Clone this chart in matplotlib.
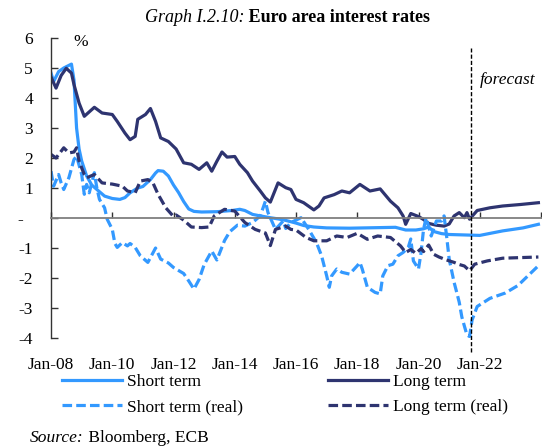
import numpy as np
import pandas as pd
import matplotlib
matplotlib.use('Agg')
import matplotlib.pyplot as plt

plt.rcParams['font.family'] = ['Liberation Serif', 'DejaVu Serif']
plt.rcParams['font.size'] = 12.5

# ---------------- data ----------------
short_dates = ['2008-01', '2008-02', '2008-04', '2008-06', '2008-09', '2008-10', '2008-11', '2008-12',
               '2009-01', '2009-03', '2009-05', '2009-07', '2009-10', '2010-01', '2010-04', '2010-06',
               '2010-08', '2010-11', '2011-01', '2011-04', '2011-06', '2011-07', '2011-09', '2011-11',
               '2012-01', '2012-03', '2012-05', '2012-07', '2012-09', '2012-12', '2013-06', '2013-12',
               '2014-03', '2014-05', '2014-08', '2014-11', '2015-03', '2015-06', '2015-09', '2016-01',
               '2016-04', '2016-08', '2017-01', '2017-10', '2018-10', '2019-04', '2019-08', '2019-12',
               '2020-03', '2020-05', '2020-07', '2020-10', '2021-01', '2021-09',
               '2022-01', '2022-10', '2023-06', '2023-12']
short_vals = [4.83, 4.55, 4.88, 5.0, 5.13, 4.6, 3.0, 2.3,
              1.9, 1.4, 1.1, 0.95, 0.73, 0.65, 0.62, 0.68,
              0.84, 1.0, 1.05, 1.28, 1.5, 1.58, 1.56, 1.4,
              1.1, 0.85, 0.55, 0.3, 0.22, 0.2, 0.21, 0.25,
              0.29, 0.25, 0.12, 0.07, 0.01, -0.03, -0.08, -0.17,
              -0.25, -0.3, -0.33, -0.34, -0.32, -0.31, -0.4, -0.4,
              -0.36, -0.3, -0.45, -0.52, -0.55, -0.57,
              -0.58, -0.43, -0.33, -0.21]

long_dates = ['2008-01', '2008-03', '2008-05', '2008-07', '2008-09', '2008-10', '2008-12', '2009-02',
              '2009-06', '2009-09', '2010-01', '2010-03', '2010-06', '2010-08', '2010-10', '2010-11',
              '2011-02', '2011-04', '2011-06', '2011-08', '2011-11', '2012-02', '2012-05', '2012-08',
              '2012-11', '2013-02', '2013-04', '2013-06', '2013-08', '2013-10', '2014-01', '2014-03',
              '2014-06', '2014-08', '2014-11', '2015-01', '2015-03', '2015-06', '2015-09', '2015-11',
              '2016-01', '2016-04', '2016-08', '2016-10', '2016-12', '2017-04', '2017-07', '2017-10',
              '2018-02', '2018-06', '2018-10', '2019-02', '2019-05', '2019-07', '2019-08', '2019-10',
              '2020-01', '2020-03', '2020-05', '2020-08', '2020-11', '2021-01', '2021-03', '2021-05',
              '2021-07', '2021-08', '2021-09',
              '2021-12', '2022-05', '2022-10', '2023-05', '2023-12']
long_vals = [4.7, 4.33, 4.75, 4.99, 4.83, 4.45, 3.83, 3.39,
             3.69, 3.5, 3.45, 3.22, 2.83, 2.61, 2.72, 3.29,
             3.45, 3.65, 3.22, 2.67, 2.55, 2.3, 1.84, 1.79,
             1.62, 1.84, 1.56, 1.89, 2.2, 2.03, 2.05, 1.79,
             1.51, 1.23, 0.9, 0.67, 0.53, 1.17, 1.01, 0.95,
             0.62, 0.51, 0.27, 0.4, 0.67, 0.78, 0.9, 0.84,
             1.12, 0.9, 0.97, 0.56, 0.34, 0.07, -0.21, 0.15,
             0.05, -0.05, -0.18, -0.24, -0.27, -0.2, 0.07, 0.18,
             0.01, 0.18, -0.04,
             0.25, 0.34, 0.4, 0.45, 0.51]

short_real_dates = ['2008-01', '2008-02', '2008-04', '2008-05', '2008-06', '2008-08', '2008-10', '2008-11',
                    '2009-01', '2009-02', '2009-03', '2009-04', '2009-06', '2009-07', '2009-08', '2009-10',
                    '2009-11', '2010-01', '2010-02', '2010-03', '2010-05', '2010-07', '2010-08', '2010-10',
                    '2010-12', '2011-03', '2011-04', '2011-06', '2011-08', '2011-11', '2012-01', '2012-05',
                    '2012-07', '2012-09', '2012-11', '2013-01', '2013-04', '2013-06', '2013-09', '2013-11',
                    '2014-02', '2014-05', '2014-08', '2014-11', '2015-01', '2015-02', '2015-05', '2015-08',
                    '2015-09', '2015-11', '2016-03', '2016-06', '2016-09', '2016-11', '2017-01', '2017-02',
                    '2017-03', '2017-05', '2017-07', '2017-10', '2018-01', '2018-02', '2018-03', '2018-05',
                    '2018-08', '2018-10', '2018-11', '2019-01', '2019-03', '2019-05', '2019-07', '2019-09',
                    '2019-10', '2019-11', '2020-01', '2020-02', '2020-03', '2020-04', '2020-06', '2020-08',
                    '2020-10', '2020-11', '2020-12', '2021-01', '2021-03', '2021-04', '2021-05', '2021-06',
                    '2021-07', '2021-08', '2021-09',
                    '2021-10', '2021-12', '2022-05', '2022-11', '2023-04', '2023-12']
short_real_vals = [1.56, 1.06, 1.45, 1.17, 0.95, 1.34, 1.95, 2.06,
                   1.45, 0.79, 1.12, 0.84, 1.51, 1.0, 0.62, 0.34,
                   -0.04, -0.38, -0.85, -0.98, -0.82, -0.93, -0.85, -0.98,
                   -1.26, -1.48, -1.32, -1.0, -1.37, -1.5, -1.65, -1.85,
                   -2.1, -2.37, -2.05, -1.55, -1.1, -1.4, -0.75, -0.46,
                   -0.24, -0.27, -0.15, 0.07, 0.56, 0.18, -0.38, -0.1,
                   -0.35, -0.15, 0.01, -0.38, -0.82, -1.26, -1.93, -2.31,
                   -1.93, -1.7, -1.81, -1.87, -1.59, -1.48, -1.7, -2.31,
                   -2.48, -2.53, -1.93, -1.59, -1.54, -1.26, -1.15, -0.98,
                   -0.7, -1.43, -1.7, -1.15, -0.38, 0.01, -0.6, -0.1,
                   -0.1, 0.07, -0.6, -1.37, -2.15, -2.48, -2.81, -3.3,
                   -3.6, -3.9, -3.95,
                   -3.4, -2.95, -2.68, -2.5, -2.25, -1.59]

long_real_dates = ['2008-01', '2008-03', '2008-06', '2008-08', '2008-10', '2008-11', '2008-12', '2009-02',
                   '2009-03', '2009-06', '2009-09', '2010-01', '2010-05', '2010-07', '2010-10', '2010-12',
                   '2011-03', '2011-05', '2011-07', '2011-10', '2012-01', '2012-02', '2012-05', '2012-08',
                   '2012-12', '2013-03', '2013-05', '2013-09', '2014-01', '2014-05', '2014-09', '2015-01',
                   '2015-03', '2015-05', '2015-09', '2015-11', '2016-01', '2016-05', '2016-08', '2017-01',
                   '2017-05', '2017-09', '2018-01', '2018-05', '2018-09', '2019-02', '2019-06', '2019-08',
                   '2019-10', '2019-12', '2020-02', '2020-03', '2020-05', '2020-07', '2020-09', '2020-12',
                   '2021-03', '2021-05', '2021-07', '2021-09',
                   '2021-11', '2022-04', '2022-10', '2023-05', '2023-12']
long_real_vals = [2.12, 2.0, 2.34, 2.17, 2.2, 2.34, 1.89, 1.45,
                  1.34, 1.45, 1.17, 1.13, 1.06, 0.9, 0.84, 1.23,
                  1.28, 1.17, 0.79, 0.34, 0.05, 0.1, -0.07, -0.3,
                  -0.32, -0.3, 0.07, 0.29, 0.23, -0.15, -0.38, -0.5,
                  -0.92, -0.38, -0.27, -0.38, -0.4, -0.65, -0.76, -0.76,
                  -0.6, -0.65, -0.51, -0.71, -0.6, -0.65, -0.93, -1.15,
                  -1.05, -1.18, -1.02, -1.12, -0.9, -1.21, -1.3, -1.4,
                  -1.48, -1.55, -1.6, -1.76,
                  -1.54, -1.43, -1.34, -1.32, -1.3]

forecast_start = '2021-09-22'
tick_years = list(range(2008, 2025, 2))
tick_labels = ['Jan-08', 'Jan-10', 'Jan-12', 'Jan-14', 'Jan-16', 'Jan-18', 'Jan-20', 'Jan-22', '']
y_ticks = [6, 5, 4, 3, 2, 1, 0, -1, -2, -3, -4]
y_labels = ['6', '5', '4', '3', '2', '1', '-\u2007', '-1', '-2', '-3', '-4']

# colours
c_light = '#3399FF'
c_dark = '#2E3470'

fig = plt.figure(figsize=(5.42, 4.46), dpi=100)
ax = fig.add_axes([51 / 542, 1 - 338 / 446, 490 / 542, 300 / 446])

lw = 2.3
dash = (3, 1.3)
l1, = ax.plot(pd.to_datetime(short_dates), short_vals, color=c_light, lw=lw, label='Short term')
l2, = ax.plot(pd.to_datetime(long_dates), long_vals, color=c_dark, lw=lw, label='Long term')
l3, = ax.plot(pd.to_datetime(short_real_dates), short_real_vals, color=c_light, lw=lw,
              dashes=dash, label='Short term (real)')
l4, = ax.plot(pd.to_datetime(long_real_dates), long_real_vals, color=c_dark, lw=lw,
              dashes=dash, label='Long term (real)')

# forecast marker
ax.axvline(pd.Timestamp(forecast_start), ymin=-0.047, ymax=0.967, color='black', lw=1.0,
           ls=(0, (3, 1.5)), clip_on=False, zorder=5)
ax.text(0.876, 0.86, 'forecast', style='italic', transform=ax.transAxes, ha='left', va='center')
ax.text(0.045, 0.985, '%', transform=ax.transAxes, ha='left', va='center')

ax.set_xlim(pd.Timestamp('2008-01-01'), pd.Timestamp('2024-01-01'))
ax.set_ylim(-4, 6)

# x axis: zero line with ticks pointing up, labels at bottom
ax.spines['right'].set_visible(False)
ax.spines['bottom'].set_visible(False)
ax.spines['top'].set_position(('data', 0))
ax.spines['top'].set_color('#7f7f7f')
ax.spines['top'].set_linewidth(1.3)
ax.spines['left'].set_color('#333333')
ax.spines['left'].set_linewidth(1.0)

ax.set_xticks([pd.Timestamp(f'{y}-01-01') for y in tick_years])
ax.set_xticklabels(tick_labels)
ax.tick_params(axis='x', top=True, labeltop=False, bottom=False, labelbottom=True,
               direction='out', length=4, width=1.0, color='#333333', pad=10)

ax.set_yticks(y_ticks)
ax.set_yticklabels(y_labels)
ax.tick_params(axis='y', direction='in', length=5, width=1.0, color='#333333', pad=13)

# title
t1 = fig.text(145 / 542, 1 - 22 / 446, 'Graph I.2.10:', style='italic', fontsize=13, va='baseline')
ax.annotate(' Euro area interest rates', xy=(1, 0), xycoords=t1, va='bottom', ha='left',
            fontweight='bold', fontsize=13, annotation_clip=False)

# legend
fig.legend([l1, l3, l2, l4], ['Short term', 'Short term (real)', 'Long term', 'Long term (real)'],
           ncol=2, loc='upper left', bbox_to_anchor=(62 / 542, 1 - 374 / 446), frameon=False,
           handlelength=3.45, handletextpad=0.3, columnspacing=4.9,
           labelspacing=0.5, borderpad=0, borderaxespad=0)

# source
s1 = fig.text(30 / 542, 1 - 442 / 446, 'Source:', style='italic', va='baseline')
ax.annotate(' Bloomberg, ECB', xy=(1, 0), xycoords=s1, va='bottom', ha='left',
            annotation_clip=False)

fig.savefig('out.png', dpi=100)
